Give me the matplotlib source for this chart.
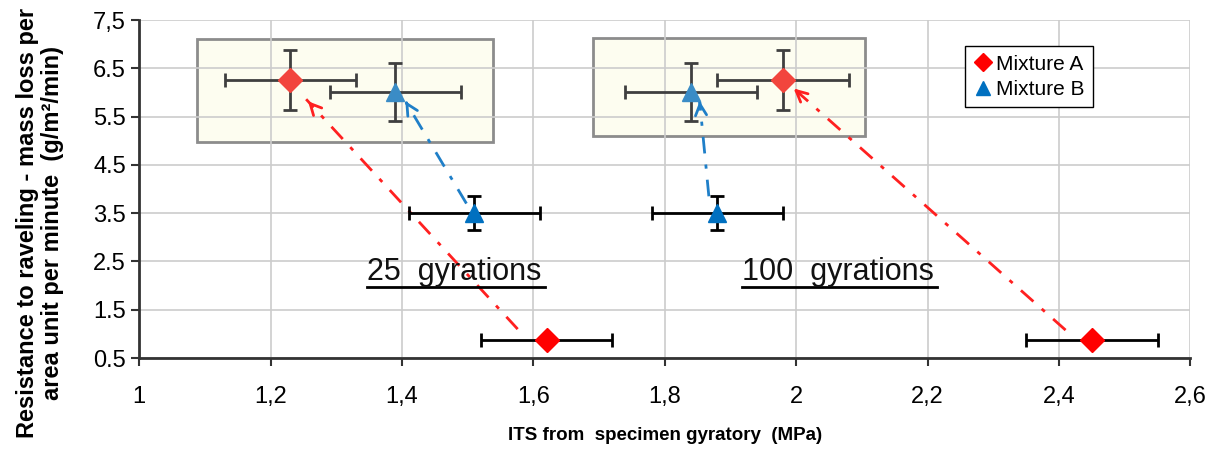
import matplotlib.pyplot as plt
from matplotlib.patches import Rectangle
from matplotlib.lines import Line2D

plt.rcParams['font.family'] = ['Liberation Sans', 'DejaVu Sans']

# Data: ITS (MPa) vs. mass loss (g/m2/min)
a_x = [1.23, 1.62, 1.98, 2.45]
a_y = [6.25, 0.88, 6.25, 0.88]
a_xerr = [0.1, 0.1, 0.1, 0.1]
a_yerr = [0.62, 0.0, 0.62, 0.0]

b_x = [1.39, 1.51, 1.84, 1.88]
b_y = [6.0, 3.5, 6.0, 3.5]
b_xerr = [0.1, 0.1, 0.1, 0.1]
b_yerr = [0.6, 0.35, 0.6, 0.35]

x_ticks = [1, 1.2, 1.4, 1.6, 1.8, 2, 2.2, 2.4, 2.6]
x_labels = ["1", "1,2", "1,4", "1,6", "1,8", "2", "2,2", "2,4", "2,6"]
y_ticks = [0.5, 1.5, 2.5, 3.5, 4.5, 5.5, 6.5, 7.5]
y_labels = ["0.5", "1.5", "2.5", "3.5", "4.5", "5.5", "6.5", "7,5"]

# arrows (tail -> head) linking 25/100 gyration points
arrows = [
    ((1.576, 1.10), (1.254, 5.86), "#FF2020"),
    ((1.498, 3.70), (1.405, 5.82), "#1F7FC8"),
    ((1.867, 3.85), (1.853, 5.82), "#1F7FC8"),
    ((2.41, 1.08), (1.993, 6.12), "#FF2020"),
]

fig = plt.figure(figsize=(12.11, 4.55), dpi=100)
ax = fig.add_axes([0.115, 0.213, 0.868, 0.743])
ax.set_axisbelow(True)

# highlight boxes
for (x0, y0, w, h) in [(1.088, 4.97, 0.451, 2.14), (1.691, 5.10, 0.413, 2.02)]:
    ax.add_patch(Rectangle((x0, y0), w, h, facecolor="#FDFDF0", edgecolor="#8C8C8C",
                           lw=2, zorder=0.3))

# top points (inside boxes) - grey error bars, softer colours
ax.errorbar([a_x[0], a_x[2]], [a_y[0], a_y[2]], xerr=[a_xerr[0], a_xerr[2]],
            yerr=[a_yerr[0], a_yerr[2]], fmt='D', color="#F2453D", ms=12,
            ecolor="#3F3F3F", elinewidth=2, capsize=5, capthick=2, zorder=3)
ax.errorbar([b_x[0], b_x[2]], [b_y[0], b_y[2]], xerr=[b_xerr[0], b_xerr[2]],
            yerr=[b_yerr[0], b_yerr[2]], fmt='^', color="#3A8CC6", ms=13,
            ecolor="#3F3F3F", elinewidth=2, capsize=5, capthick=2, zorder=3)

# bottom points - black error bars
ax.errorbar([a_x[1], a_x[3]], [a_y[1], a_y[3]], xerr=[a_xerr[1], a_xerr[3]],
            fmt='D', color="#FF0000", ms=12,
            ecolor="black", elinewidth=2, capsize=5, capthick=2, zorder=3)
ax.errorbar([b_x[1], b_x[3]], [b_y[1], b_y[3]], xerr=[b_xerr[1], b_xerr[3]],
            yerr=[b_yerr[1], b_yerr[3]], fmt='^', color="#0070C0", ms=13,
            ecolor="black", elinewidth=2, capsize=5, capthick=2, zorder=3)

# dash-dot arrows with open heads
for (tx, ty), (hx, hy), c in arrows:
    ax.plot([tx, hx], [ty, hy], color=c, lw=2, linestyle=(0, (6, 4, 1.5, 4)), zorder=2)
    ax.annotate("", xy=(hx, hy), xytext=(hx + (tx - hx) * 0.04, hy + (ty - hy) * 0.04),
                arrowprops=dict(arrowstyle="->,head_length=0.8,head_width=0.4",
                                color=c, lw=2), zorder=2)

# labels "25 gyrations" / "100 gyrations", underlined
ax.text(1.346, 2.12, "25  gyrations", fontsize=22, ha='left', va='baseline', color="#111111")
ax.plot([1.346, 1.617], [1.97, 1.97], color="black", lw=2)
ax.text(1.917, 2.12, "100  gyrations", fontsize=22, ha='left', va='baseline', color="#111111")
ax.plot([1.917, 2.215], [1.97, 1.97], color="black", lw=2)

# legend
handles = [Line2D([], [], marker='D', color="#FF0000", ls='none', ms=9),
           Line2D([], [], marker='^', color="#0070C0", ls='none', ms=10)]
ax.legend(handles, ["Mixture A", "Mixture B"], loc='upper right',
          bbox_to_anchor=(0.907, 0.922), fontsize=15, frameon=True, fancybox=False,
          edgecolor="black", handletextpad=0.1, handlelength=1.0, borderpad=0.4,
          labelspacing=0.3, borderaxespad=0, framealpha=1)

ax.set_xlim(1, 2.6)
ax.set_ylim(0.5, 7.5)
ax.set_xticks(x_ticks)
ax.set_xticklabels(x_labels)
ax.set_yticks(y_ticks)
ax.set_yticklabels(y_labels)
ax.tick_params(axis='both', labelsize=17, direction='out', length=6, width=1.5,
               color="#333333")
ax.tick_params(axis='x', pad=14)
ax.grid(True, color="#CCCCCC", lw=1.2)

for s in ['top', 'right']:
    ax.spines[s].set_visible(False)
for s in ['left', 'bottom']:
    ax.spines[s].set_color("#333333")
    ax.spines[s].set_linewidth(2)

ax.set_xlabel("ITS from  specimen gyratory  (MPa)", fontsize=13.5, fontweight='bold', labelpad=14)
fig.text(0.033, 0.51, "Resistance to raveling - mass loss per\narea unit per minute  (g/m\u00b2/min)",
         fontsize=17, fontweight='bold', rotation=90, ha='center', va='center',
         multialignment='center', linespacing=1.1)

fig.savefig("out.png", dpi=100)
